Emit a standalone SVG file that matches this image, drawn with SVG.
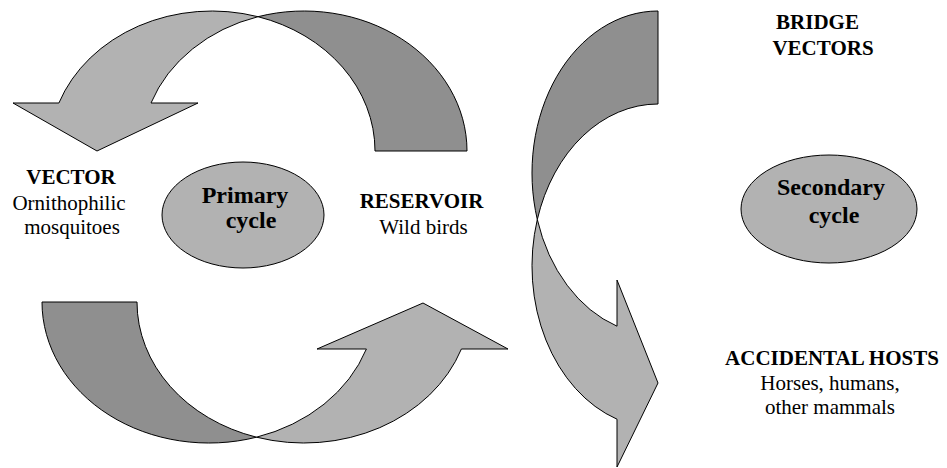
<svg xmlns="http://www.w3.org/2000/svg" width="947" height="468" viewBox="0 0 947 468">
<style>
.light{fill:#b2b2b2;stroke:#000;stroke-width:1;stroke-linejoin:miter}
.dark{fill:#8f8f8f;stroke:#000;stroke-width:1;stroke-linejoin:miter}
.ell{fill:#b2b2b2;stroke:#000;stroke-width:1}
text{font-family:"Liberation Serif","Times New Roman",serif;fill:#000;text-anchor:middle}
.b{font-weight:bold;font-size:21px}
.r{font-size:21px}
.c{font-weight:bold;font-size:24px}
</style>
<rect width="947" height="468" fill="#fff"/>
<g id="connectors">
  <g id="arrow-top">
    <path class="dark" d="M258,16.7 A163,140 0 0 1 467,151 L375,151 A163,140 0 0 0 258,16.7 Z"/>
    <path class="light" d="M58.9,103 L13,103 L97,151 L198,103 L151,103 A163,140 0 0 1 258,16.7 A163,140 0 0 0 58.9,103 Z"/>
  </g>
  <g id="arrow-bottom">
    <path class="dark" d="M42,302 L137,302 A167,141 0 0 0 256.5,437.2 A167,141 0 0 1 42,302 Z"/>
    <path class="light" d="M256.5,437.2 A167,141 0 0 0 366.4,349 L317,349 L423,303 L508,349 L461.4,349 A167,141 0 0 1 256.5,437.2 Z"/>
  </g>
  <g id="arrow-right">
    <path class="dark" d="M658,11 L658,104 A126,162 0 0 0 537.3,219.5 A126,162 0 0 1 658,11 Z"/>
    <path class="light" d="M537.3,219.5 A126,162 0 0 0 617,326.2 L617,280 L658,383 L617,467 L617,419.2 A126,162 0 0 1 537.3,219.5 Z"/>
  </g>
</g>
<g id="primary-cycle">
  <ellipse class="ell" cx="243" cy="215" rx="81" ry="53"/>
  <text class="c" x="245" y="203">Primary</text>
  <text class="c" x="251" y="228">cycle</text>
</g>
<g id="secondary-cycle">
  <ellipse class="ell" cx="829" cy="209" rx="88" ry="54"/>
  <text class="c" x="831" y="195">Secondary</text>
  <text class="c" x="834" y="223">cycle</text>
</g>
<g id="vector">
  <text class="b" x="71" y="184">VECTOR</text>
  <text class="r" x="69" y="210">Ornithophilic</text>
  <text class="r" x="72" y="234">mosquitoes</text>
</g>
<g id="reservoir">
  <text class="b" x="421.5" y="208">RESERVOIR</text>
  <text class="r" x="423.5" y="234">Wild birds</text>
</g>
<g id="bridge-vectors">
  <text class="b" x="817.5" y="29">BRIDGE</text>
  <text class="b" x="823" y="55">VECTORS</text>
</g>
<g id="accidental-hosts">
  <text class="b" x="832" y="365">ACCIDENTAL HOSTS</text>
  <text class="r" x="830" y="390">Horses, humans,</text>
  <text class="r" x="830" y="414">other mammals</text>
</g>
</svg>
